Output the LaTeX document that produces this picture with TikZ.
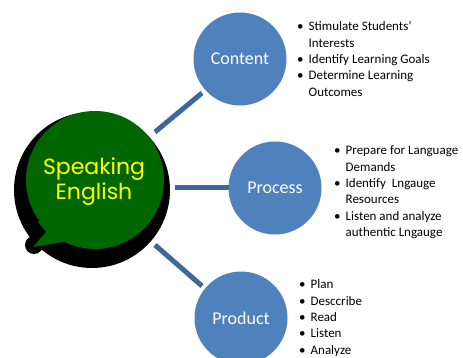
\documentclass[tikz,border=0pt]{standalone}
\usepackage{fontspec}
\setmainfont{Carlito}
\newfontfamily\titlefont{Poppins}
\definecolor{circblue}{RGB}{79,129,189}
\definecolor{linkblue}{RGB}{62,104,156}
\definecolor{bubblegreen}{RGB}{0,102,0}
\definecolor{glowyellow}{RGB}{255,255,0}
\tikzset{
  topic/.style={circle, fill=circblue, minimum size=93pt, inner sep=0pt, text=white, font=\fontsize{18}{20}\selectfont},
  link/.style={draw=linkblue, line width=5pt},
  blist/.style={anchor=north west, inner sep=0pt, align=left, font=\fontsize{13}{16.4}\selectfont},
  titletext/.style={align=center, font=\titlefont\fontsize{22}{25}\selectfont},
}
\newcommand{\bl}{\textbullet}
\begin{document}
\begin{tikzpicture}[x=1pt,y=-1pt]
\useasboundingbox (0,0) rectangle (463,358);
% speech bubble
\fill[black] (92,190) circle (78);
\fill[black] (34,245) circle (9);
\fill[bubblegreen] (95,180) circle (69);
\fill[bubblegreen] (38,222) -- (46,232) -- (33,247) -- (63,242) -- (75,236) -- (50,212) -- cycle;
\node[titletext, text=glowyellow] (title) at (94,182) {Speaking\\English};
% topics
\node[topic] (content) at (240,59) {Content};
\node[topic] (process) at (275,188) {Process};
\node[topic] (product) at (241,318) {Product};
% links
\coordinate (l1a) at (155,132); \coordinate (l1b) at (202,93);
\coordinate (l2a) at (175,188); \coordinate (l2b) at (229,188);
\coordinate (l3a) at (155,245); \coordinate (l3b) at (202,286);
\draw[link] (l1a) -- (l1b);
\draw[link] (l2a) -- (l2b);
\draw[link] (l3a) -- (l3b);
% lists
\node[blist] (clist) at (297,19) {\begin{tabular}{@{}l@{\hspace{5pt}}l@{}}
\bl & Stimulate Students'\\ & Interests\\ \bl & Identify Learning Goals\\ \bl & Determine Learning\\ & Outcomes\end{tabular}};
\node[blist] (plist) at (334,143) {\begin{tabular}{@{}l@{\hspace{5pt}}l@{}}
\bl & Prepare for Language\\ & Demands\\ \bl & Identify~ Lngauge\\ & Resources\\ \bl & Listen and analyze\\ & authentic Lngauge\end{tabular}};
\node[blist] (prlist) at (299,277) {\begin{tabular}{@{}l@{\hspace{5pt}}l@{}}
\bl & Plan\\ \bl & Desccribe\\ \bl & Read\\ \bl & Listen\\ \bl & Analyze\end{tabular}};
\end{tikzpicture}
\end{document}
